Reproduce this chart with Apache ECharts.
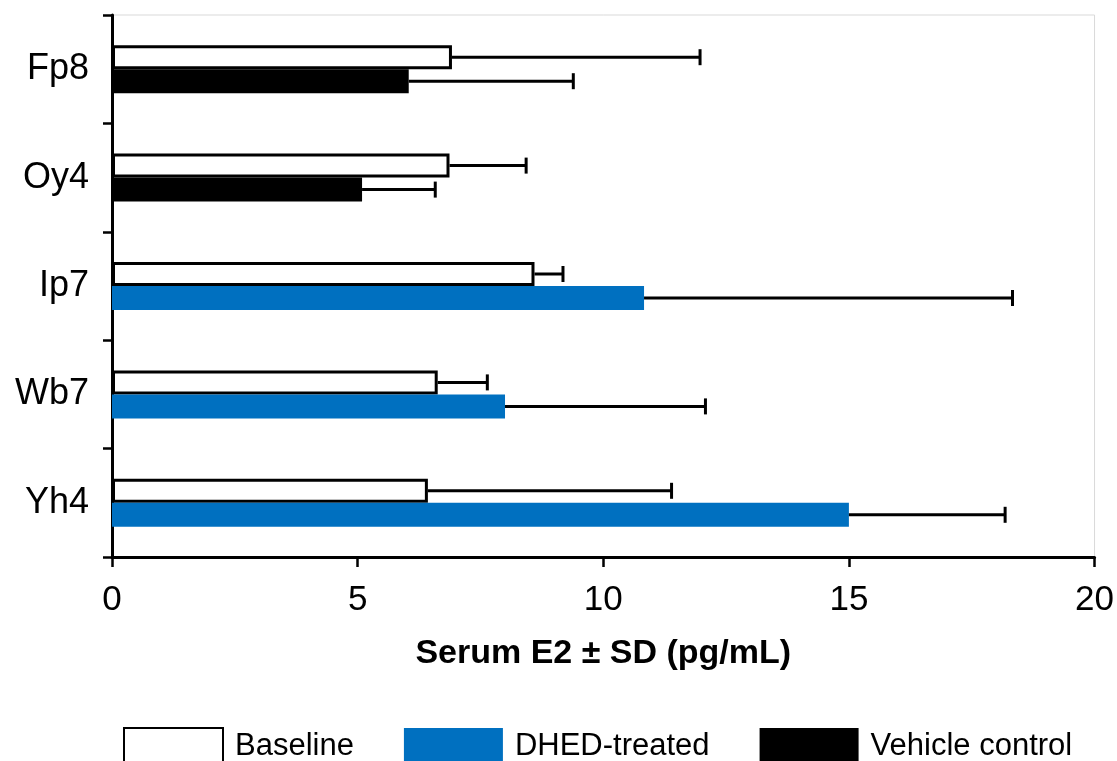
<!DOCTYPE html>
<html>
<head>
<meta charset="utf-8">
<script src="https://cdn.jsdelivr.net/npm/echarts@6/dist/echarts.min.js"></script>
<style>
  html, body { margin: 0; padding: 0; background: #fff; }
  #chart { width: 1117px; height: 761px; }
</style>
</head>
<body>
<div id="chart"></div>
<script>
// Serum E2 per animal: baseline vs. DHED-treated / vehicle control (mean and SD, pg/mL)
const categories = ['Fp8', 'Oy4', 'Ip7', 'Wb7', 'Yh4'];
const baseline   = [6.92, 6.87, 8.60, 6.63, 6.43];
const baselineSD = [5.05, 1.56, 0.58, 1.01, 4.96];
const dhed       = [null, null, 10.83, 8.00, 15.00];
const dhedSD     = [null, null, 7.50, 4.08, 3.18];
const vehicle    = [6.04, 5.09, null, null, null];
const vehicleSD  = [3.35, 1.49, null, null, null];
const xTicks     = [0, 5, 10, 15, 20];

const FONT = "'Liberation Sans', Arial, sans-serif";
const BAR_W = 24;
const BLUE = '#0070C0';

// Error bar points: [categoryIndex, mean, sd, side] where side -1 = upper bar, +1 = lower bar
function errorData(means, sds, side) {
  const out = [];
  means.forEach((m, i) => {
    if (m != null && sds[i] != null) out.push([i, m, sds[i], side]);
  });
  return out;
}
const errPoints = []
  .concat(errorData(baseline, baselineSD, -1))
  .concat(errorData(dhed, dhedSD, 1))
  .concat(errorData(vehicle, vehicleSD, 1));

const chart = echarts.init(document.getElementById('chart'), null, { renderer: 'canvas' });

chart.setOption({
  animation: false,
  backgroundColor: '#fff',
  textStyle: { fontFamily: FONT },
  grid: {
    left: 112, right: 18, top: 15, bottom: 204,
    show: true, borderColor: '#d9d9d9', borderWidth: 1
  },
  legend: {
    data: ['Baseline', 'DHED-treated', 'Vehicle control'],
    left: 123, top: 727, padding: 0,
    itemWidth: 99, itemHeight: 36, itemGap: 50,
    icon: 'rect',
    textStyle: { fontSize: 31, color: '#000', fontFamily: FONT, padding: [0, 0, 0, 7] }
  },
  xAxis: {
    type: 'value',
    min: xTicks[0], max: xTicks[xTicks.length - 1], interval: 5,
    name: 'Serum E2 \u00b1 SD (pg/mL)',
    nameLocation: 'middle', nameGap: 80,
    nameTextStyle: { fontSize: 34, fontWeight: 'bold', color: '#000', fontFamily: FONT },
    axisLine: { show: true, lineStyle: { color: '#000', width: 3 } },
    axisTick: { show: true, length: 10, lineStyle: { color: '#000', width: 2.5 } },
    axisLabel: { fontSize: 35, color: '#000', margin: 26, fontFamily: FONT },
    splitLine: { show: false }
  },
  yAxis: {
    type: 'category',
    data: categories,
    inverse: true,
    axisLine: { show: true, lineStyle: { color: '#000', width: 3 } },
    axisTick: { show: true, length: 9, lineStyle: { color: '#000', width: 2.5 } },
    axisLabel: { fontSize: 36, color: '#000', margin: 23, fontFamily: FONT },
    splitLine: { show: false }
  },
  series: [
    {
      name: 'Baseline', type: 'bar', data: baseline,
      barWidth: BAR_W, barGap: '0%',
      itemStyle: { color: '#fff', borderColor: '#000', borderWidth: 3 }
    },
    {
      name: 'DHED-treated', type: 'bar', stack: 'treatment', data: dhed,
      barWidth: BAR_W,
      itemStyle: { color: BLUE }
    },
    {
      name: 'Vehicle control', type: 'bar', stack: 'treatment', data: vehicle,
      barWidth: BAR_W,
      itemStyle: { color: '#000' }
    },
    {
      name: 'SD', type: 'custom',
      data: errPoints,
      encode: { x: [1, 2], y: 0 },
      z: 5,
      renderItem: function (params, api) {
        const cat = api.value(0);
        const mean = api.value(1);
        const sd = api.value(2);
        const side = api.value(3);
        const start = api.coord([mean, cat]);
        const end = api.coord([mean + sd, cat]);
        const y = start[1] + side * BAR_W / 2;
        const cap = 8;
        const style = { stroke: '#000', lineWidth: 3, fill: null };
        return {
          type: 'group',
          children: [
            { type: 'line', shape: { x1: start[0], y1: y, x2: end[0], y2: y }, style: style },
            { type: 'line', shape: { x1: end[0], y1: y - cap, x2: end[0], y2: y + cap }, style: style }
          ]
        };
      }
    }
  ]
});
</script>
</body>
</html>
